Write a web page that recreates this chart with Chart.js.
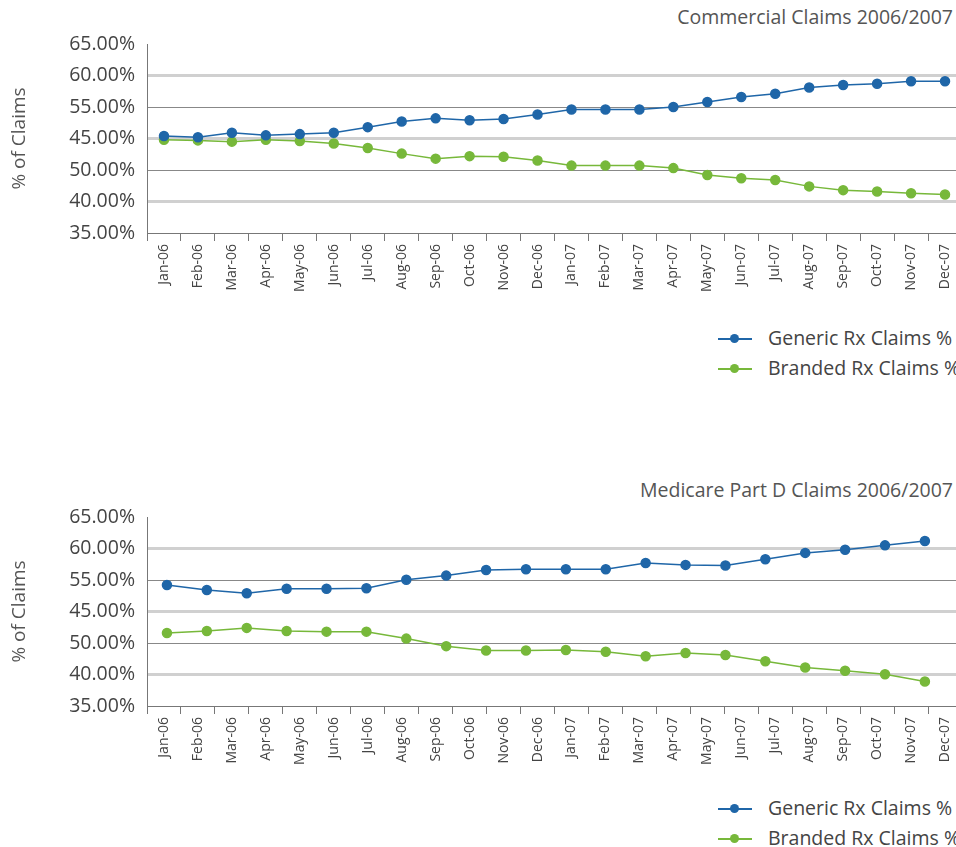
<!DOCTYPE html>
<html><head><meta charset="utf-8">
<script src="https://cdn.jsdelivr.net/npm/chart.js@4/dist/chart.umd.min.js"></script>
<style>
body{margin:0;width:956px;height:847px;overflow:hidden;background:#fff;font-family:"Open Sans",sans-serif;color:#444;position:relative}
.box{position:absolute;left:0;width:968px;height:313px}
.ttl{position:absolute;right:3px;font-size:19.5px;color:#555}
.lg{position:absolute;left:716px;font-size:19.5px;color:#444;white-space:nowrap}
.lg div{height:30px;line-height:30px;position:relative;padding-left:52px}
.lg span{position:absolute;left:2px;top:15px;width:34px;height:1.5px}
.lg i{position:absolute;left:14px;top:11px;width:9px;height:9px;border-radius:50%}
</style></head><body>
<div class="ttl" style="top:3px">Commercial Claims 2006/2007</div>
<div class="box" style="top:0"><canvas id="c1"></canvas></div>
<div class="lg" style="top:323px"><div><span style="background:#1f66a8"></span><i style="background:#1f66a8"></i>Generic Rx Claims %</div><div><span style="background:#77b83a"></span><i style="background:#77b83a"></i>Branded Rx Claims %</div></div>
<div class="ttl" style="top:476px">Medicare Part D Claims 2006/2007</div>
<div class="box" style="top:473px"><canvas id="c2"></canvas></div>
<div class="lg" style="top:793px"><div><span style="background:#1f66a8"></span><i style="background:#1f66a8"></i>Generic Rx Claims %</div><div><span style="background:#77b83a"></span><i style="background:#77b83a"></i>Branded Rx Claims %</div></div>
<script>
const months = ["Jan-06","Feb-06","Mar-06","Apr-06","May-06","Jun-06","Jul-06","Aug-06","Sep-06","Oct-06","Nov-06","Dec-06","Jan-07","Feb-07","Mar-07","Apr-07","May-07","Jun-07","Jul-07","Aug-07","Sep-07","Oct-07","Nov-07","Dec-07"];
const yTickLabels = ["35.00%","40.00%","50.00%","45.00%","55.00%","60.00%","65.00%"];
const commercialGeneric = [50.4,50.2,50.9,50.5,50.7,50.9,51.8,52.7,53.2,52.9,53.1,53.8,54.6,54.6,54.6,55.0,55.8,56.6,57.1,58.1,58.5,58.7,59.1,59.1];
const commercialBranded = [49.8,49.7,49.5,49.8,49.6,49.2,48.5,47.6,46.8,47.2,47.1,46.5,45.7,45.7,45.7,45.3,44.2,43.7,43.4,42.4,41.8,41.6,41.3,41.1];
const medicareGeneric = [54.2,53.4,52.9,53.6,53.6,53.7,55.05,55.7,56.6,56.7,56.7,56.7,57.7,57.4,57.3,58.3,59.3,59.8,60.5,61.2];
const medicareBranded = [46.6,46.9,47.4,46.9,46.8,46.8,45.7,44.5,43.8,43.8,43.9,43.6,42.9,43.4,43.1,42.1,41.1,40.6,40.05,38.9];
const BLUE="#1f66a8", GREEN="#77b83a";
const font="'Open Sans', sans-serif";
function ds(label,data,color,pts){
  return {label,data:pts?data.map((v,i)=>({x:i,y:v})):data,borderColor:color,backgroundColor:color,pointBackgroundColor:color,pointBorderColor:color,pointRadius:4.5,borderWidth:1.5,tension:0,xAxisID:pts?'x2':'x'};
}
function gridColor(c){const v=c.tick&&c.tick.value;return (v===55||v===45)?'#888':'#d0d0d0';}
function gridWidth(c){const v=c.tick&&c.tick.value;if(v===65||v===35)return 0;return (v===55||v===45)?1:3;}
function make(id,datasets,hasX2){
  const scales={
    x:{type:'category',labels:months,offset:true,
      grid:{offset:true,drawOnChartArea:false,color:'#777',tickLength:8,tickColor:'#777'},
      border:{color:'#777'},
      ticks:{minRotation:90,maxRotation:90,color:'#444',font:{family:font,size:14},autoSkip:false},
      afterFit:s=>{s.height=80;}},
    y:{min:35,max:65,
      ticks:{stepSize:5,color:'#444',font:{family:font,size:19.5},padding:12,callback:(v,i)=>yTickLabels[i]},
      grid:{color:gridColor,lineWidth:gridWidth,drawTicks:false},
      border:{color:'#777'},
      title:{display:true,text:'% of Claims',color:'#555',font:{family:font,size:19},padding:{top:8,bottom:0}},
      afterFit:s=>{s.width=147;}}
  };
  if(hasX2){scales.x2={type:'linear',display:false,min:-0.5,max:19.93};}
  new Chart(document.getElementById(id),{type:'line',data:{datasets},
    options:{responsive:true,maintainAspectRatio:false,animation:false,
      layout:{padding:{top:44,right:0,left:0,bottom:0}},
      plugins:{legend:{display:false},tooltip:{enabled:false}},
      scales}});
}
make('c1',[ds('Generic Rx Claims %',commercialGeneric,BLUE),ds('Branded Rx Claims %',commercialBranded,GREEN)],false);
make('c2',[ds('Generic Rx Claims %',medicareGeneric,BLUE,true),ds('Branded Rx Claims %',medicareBranded,GREEN,true)],true);
</script></body></html>
